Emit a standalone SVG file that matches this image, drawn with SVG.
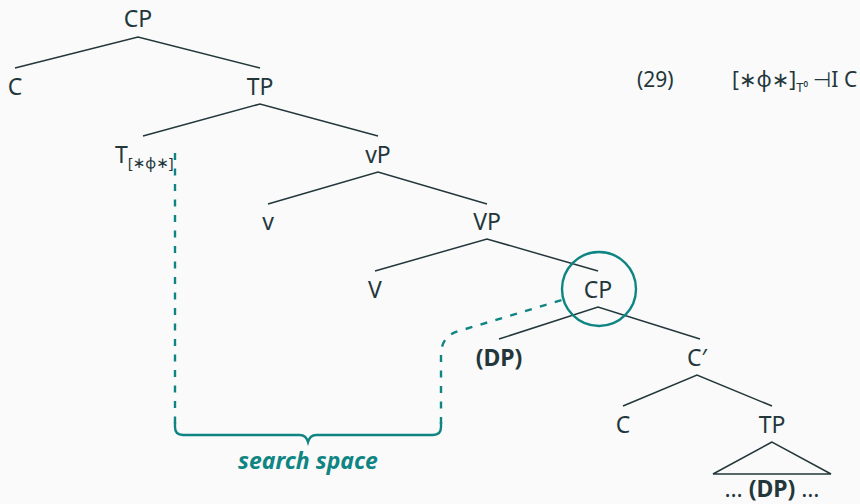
<svg xmlns="http://www.w3.org/2000/svg" width="860" height="504" viewBox="0 0 860 504">
  <style>
    .lbl { font-family: "Noto Sans", "DejaVu Sans", sans-serif; font-size: 23px; fill: #23373b; text-anchor: middle; }
    .bold { font-weight: bold; }
    .edge { stroke: #23373b; stroke-width: 1.5; fill: none; }
    .teal { stroke: #0f8583; stroke-width: 2.4; fill: none; }
    .dash { stroke-dasharray: 7 8.5; }
    .note { font-family: "Noto Sans", "DejaVu Sans", sans-serif; font-size: 21px; fill: #23373b; }
  </style>
  <rect width="860" height="504" fill="#fafafa"/>

  <!-- tree branches -->
  <g id="connectors">
    <polyline class="edge" points="15,68 138,37 260,68"/>
    <polyline class="edge" points="143,136 260,104 378,136"/>
    <polyline class="edge" points="268,204 378,172 487,204"/>
    <polyline class="edge" points="375,271 487,239 598,271"/>
    <polyline class="edge" points="499,339 598,307 700,339"/>
    <polyline class="edge" points="623,406 697,375 772,406"/>
    <polygon class="edge" points="772,442 713,474 831,474"/>
  </g>

  <g id="n-cp"><text class="lbl" x="138" y="27">CP</text></g>
  <g id="n-c"><text class="lbl" x="15" y="95">C</text></g>
  <g id="n-tp"><text class="lbl" x="260" y="95">TP</text></g>
  <g id="n-t"><text class="lbl" x="115" y="163" style="text-anchor:start">T<tspan font-size="15" dy="5">[∗ϕ∗]</tspan></text></g>
  <g id="n-vp"><text class="lbl" x="378" y="163">vP</text></g>
  <g id="n-v"><text class="lbl" x="268" y="230">v</text></g>
  <g id="n-VP"><text class="lbl" x="487" y="230">VP</text></g>
  <g id="n-V"><text class="lbl" x="375" y="298">V</text></g>
  <g id="n-cp2">
    <circle class="teal" cx="599" cy="289" r="37"/>
    <text class="lbl" x="598" y="298">CP</text>
  </g>
  <g id="n-dp"><text class="lbl bold" x="499" y="366">(DP)</text></g>
  <g id="n-cbar"><text class="lbl" x="697" y="366">C′</text></g>
  <g id="n-c2"><text class="lbl" x="623" y="433">C</text></g>
  <g id="n-tp2"><text class="lbl" x="772" y="433">TP</text></g>
  <g id="n-leaf"><text class="lbl" x="772" y="497">… <tspan class="bold">(DP)</tspan> …</text></g>

  <!-- search space: dashed bounds and brace -->
  <g id="search-space">
    <path class="teal dash" d="M175,153 V424"/>
    <path class="teal dash" d="M441,424 V355 Q441,336 459,331 L562,300"/>
    <path class="teal" d="M175,422 V427 Q175,435 183,435 H300 Q306,435 308,442 Q310,435 316,435 H433 Q441,435 441,427 V422"/>
    <text x="308" y="469" style="font-family:'Noto Sans','DejaVu Sans',sans-serif;font-size:23px;font-weight:bold;font-style:italic;fill:#0f8583;text-anchor:middle">search space</text>
  </g>

  <!-- example annotation -->
  <g id="example">
    <text class="note" x="637" y="87">(29)</text>
    <text class="note" x="732" y="87">[∗ϕ∗]<tspan font-size="13" dy="5">T⁰</tspan><tspan dy="-5" dx="5">⊣I C</tspan></text>
  </g>
</svg>
